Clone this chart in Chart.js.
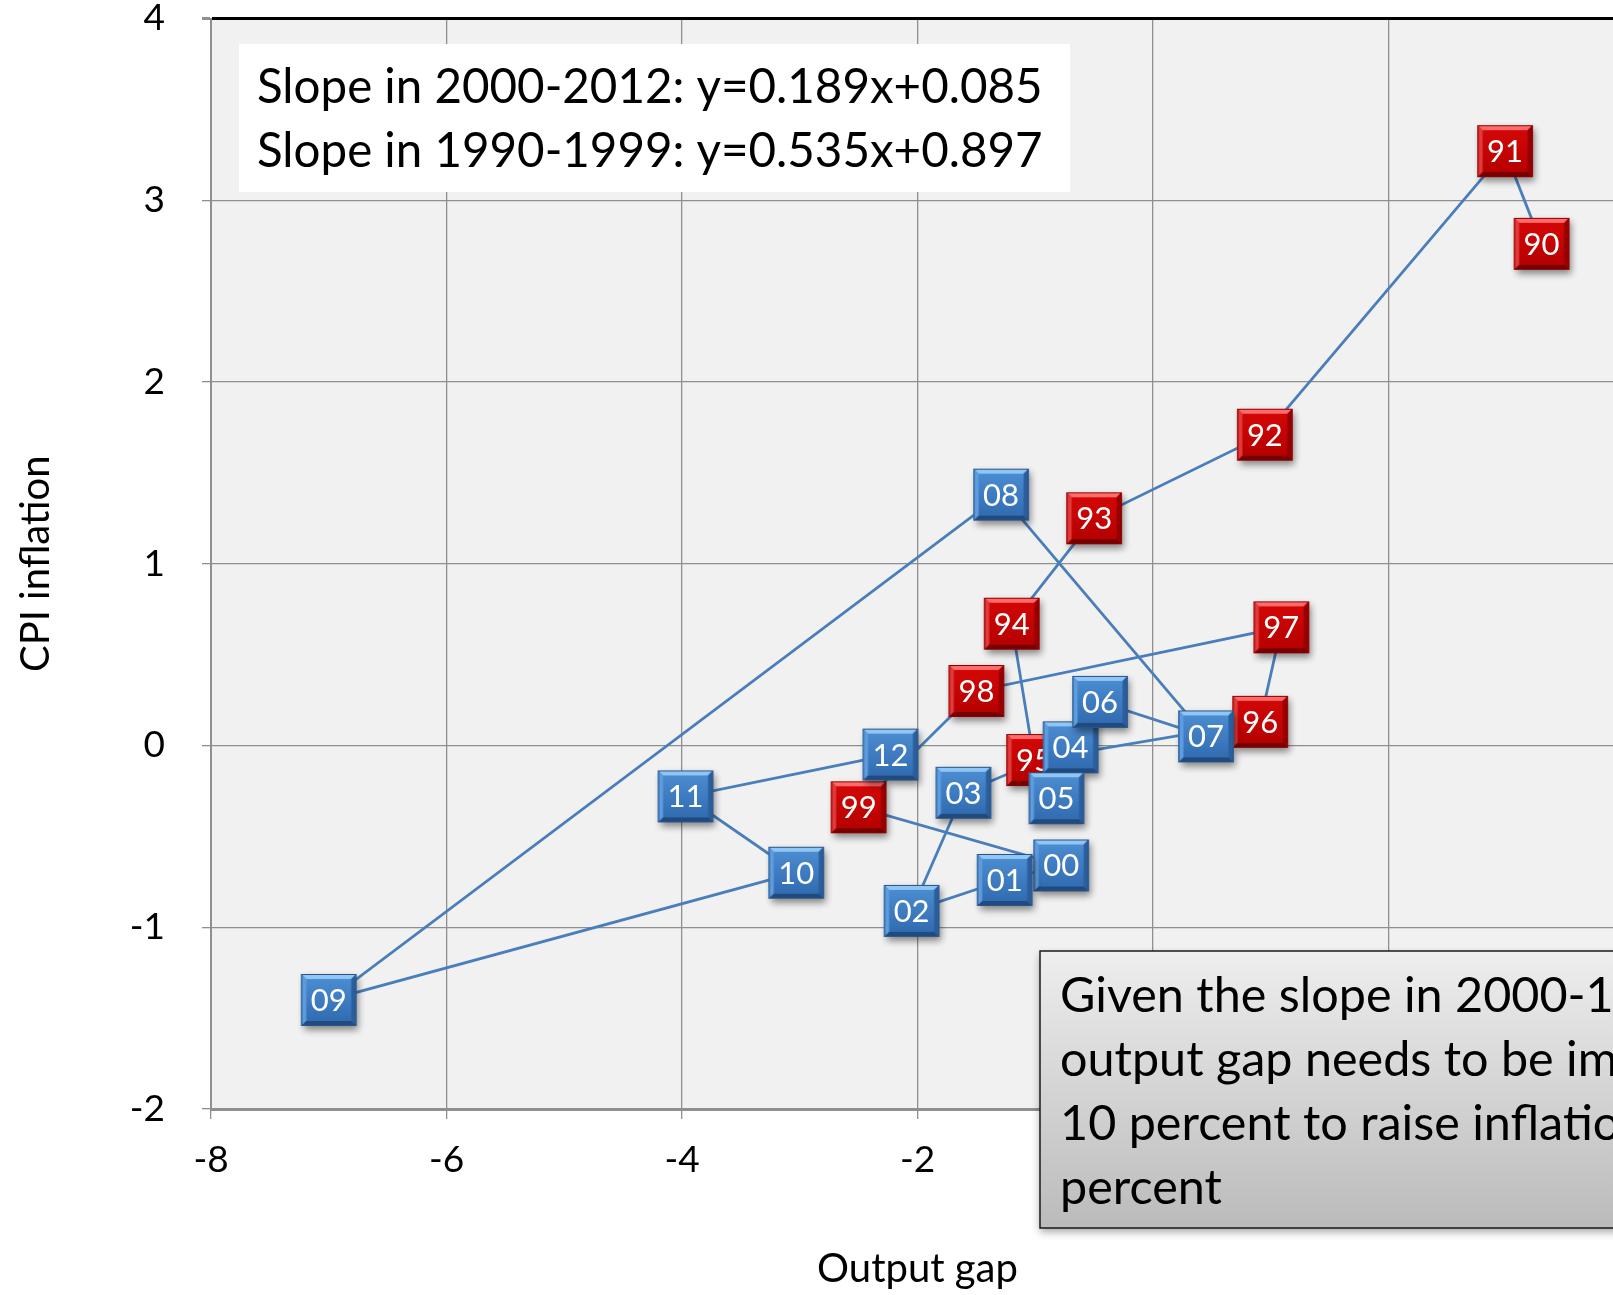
<!DOCTYPE html>
<html>
<head>
<meta charset="utf-8">
<title>Output gap and CPI inflation</title>
<script src="https://cdn.jsdelivr.net/npm/chart.js@4.4.1/dist/chart.umd.min.js"></script>
<style>
  html, body { margin: 0; padding: 0; background: #fff; overflow: hidden; }
</style>
</head>
<body>
<canvas id="phillipsChart" width="1700" height="1295"></canvas>
<script>
// 1990-1999 (red markers)
const redYears = ["90", "91", "92", "93", "94", "95", "96", "97", "98", "99"];
const redGap = [3.30, 2.99, 0.95, -0.50, -1.20, -1.01, 0.91, 1.09, -1.50, -2.50];
const redInflation = [2.76, 3.27, 1.71, 1.25, 0.67, -0.08, 0.13, 0.65, 0.30, -0.34];

// 2000-2012 (blue markers)
const blueYears = ["00", "01", "02", "03", "04", "05", "06", "07", "08", "09", "10", "11", "12"];
const blueGap = [-0.78, -1.26, -2.05, -1.61, -0.70, -0.82, -0.45, 0.45, -1.29, -7.00, -3.03, -3.97, -2.23];
const blueInflation = [-0.66, -0.74, -0.91, -0.26, -0.01, -0.29, 0.24, 0.05, 1.38, -1.40, -0.70, -0.28, -0.05];

const xTicks = [-8, -6, -4, -2, 0, 2, 4];
const yTicks = [-2, -1, 0, 1, 2, 3, 4];

const slopeNotes = [
    "Slope in 2000-2012: y=0.189x+0.085",
    "Slope in 1990-1999: y=0.535x+0.897"
];
const gapNote = [
    "Given the slope in 2000-12, the",
    "output gap needs to be improved by",
    "10 percent to raise inflation by 2",
    "percent"
];

const FONT = "Lato, 'Open Sans', sans-serif";
const GRID = "#8f8f8f";

function toPoints(xs, ys) {
    return xs.map((x, i) => ({ x: x, y: ys[i] }));
}

function poly(g, color, pts) {
    g.fillStyle = color;
    g.beginPath();
    g.moveTo(pts[0][0], pts[0][1]);
    pts.slice(1).forEach(p => g.lineTo(p[0], p[1]));
    g.closePath();
    g.fill();
}

// beveled square used as the point style
function makeBox(c) {
    const cv = document.createElement("canvas");
    cv.width = 80;
    cv.height = 80;
    const g = cv.getContext("2d");
    const w = 55, h = 52, b = 5;
    const x0 = (80 - w) / 2, y0 = (80 - h) / 2;

    g.save();
    g.shadowColor = "rgba(0,0,0,0.45)";
    g.shadowBlur = 7;
    g.shadowOffsetX = 2;
    g.shadowOffsetY = 4;
    g.fillStyle = c.faceBottom;
    g.fillRect(x0, y0, w, h);
    g.restore();

    const grad = g.createLinearGradient(0, y0, 0, y0 + h);
    grad.addColorStop(0, c.faceTop);
    grad.addColorStop(1, c.faceBottom);
    g.fillStyle = grad;
    g.fillRect(x0, y0, w, h);

    poly(g, c.top, [[x0, y0], [x0 + w, y0], [x0 + w - b, y0 + b], [x0 + b, y0 + b]]);
    poly(g, c.left, [[x0, y0], [x0 + b, y0 + b], [x0 + b, y0 + h - b], [x0, y0 + h]]);
    poly(g, c.right, [[x0 + w, y0], [x0 + w, y0 + h], [x0 + w - b, y0 + h - b], [x0 + w - b, y0 + b]]);
    poly(g, c.bottom, [[x0, y0 + h], [x0 + b, y0 + h - b], [x0 + w - b, y0 + h - b], [x0 + w, y0 + h]]);

    g.strokeStyle = c.edge;
    g.lineWidth = 1;
    g.strokeRect(x0 + 0.5, y0 + 0.5, w - 1, h - 1);
    return cv;
}

const redBox = makeBox({
    faceTop: "#d60808", faceBottom: "#b30000",
    top: "#ff6a6a", left: "#e23a3a", right: "#960000", bottom: "#760000", edge: "#8c0000"
});
const blueBox = makeBox({
    faceTop: "#4e8fd4", faceBottom: "#2f69ae",
    top: "#8fc6f6", left: "#5d9ddf", right: "#2b5e9c", bottom: "#214b80", edge: "#2b5485"
});

const plotBackground = {
    id: "plotBackground",
    beforeDraw(chart) {
        const { ctx, chartArea: a } = chart;
        ctx.save();
        ctx.fillStyle = "#f1f1f1";
        ctx.fillRect(a.left, a.top, a.right - a.left, a.bottom - a.top);
        ctx.restore();
    }
};

// year labels drawn right after their own dataset, so later boxes cover them
const yearLabels = {
    id: "yearLabels",
    afterDatasetDraw(chart, args) {
        const ds = chart.data.datasets[args.index];
        if (!ds.years) return;
        const { ctx } = chart;
        ctx.save();
        ctx.font = "31px " + FONT;
        ctx.fillStyle = "#ffffff";
        ctx.textAlign = "center";
        ctx.textBaseline = "middle";
        args.meta.data.forEach((pt, i) => {
            ctx.fillText(ds.years[i], pt.x, pt.y + 1);
        });
        ctx.restore();
    }
};

const notes = {
    id: "notes",
    beforeDatasetsDraw(chart) {
        const { ctx } = chart;
        ctx.save();
        ctx.fillStyle = "#ffffff";
        ctx.fillRect(239, 44, 831, 148);
        ctx.fillStyle = "#000";
        ctx.font = "47.5px " + FONT;
        ctx.textBaseline = "middle";
        slopeNotes.forEach((t, i) => ctx.fillText(t, 257, 88 + i * 64));
        ctx.restore();
    },
    afterDraw(chart) {
        const { ctx } = chart;
        const x = 1040, y = 951, w = 700, h = 277;
        ctx.save();
        ctx.shadowColor = "rgba(0,0,0,0.35)";
        ctx.shadowBlur = 8;
        ctx.shadowOffsetY = 4;
        const grad = ctx.createLinearGradient(0, y, 0, y + h);
        grad.addColorStop(0, "#eeeeee");
        grad.addColorStop(1, "#bbbbbb");
        ctx.fillStyle = grad;
        ctx.fillRect(x, y, w, h);
        ctx.shadowColor = "transparent";
        ctx.strokeStyle = "#1a1a1a";
        ctx.lineWidth = 1.5;
        ctx.strokeRect(x, y, w, h);
        ctx.fillStyle = "#000";
        ctx.font = "48.5px " + FONT;
        ctx.textBaseline = "middle";
        gapNote.forEach((t, i) => ctx.fillText(t, 1060, 996 + i * 64));
        ctx.restore();
    }
};

const ctx = document.getElementById("phillipsChart").getContext("2d");
new Chart(ctx, {
    type: "scatter",
    data: {
        datasets: [
            {
                label: "2000-2012",
                years: blueYears,
                data: toPoints(blueGap, blueInflation),
                pointStyle: blueBox,
                order: 0
            },
            {
                label: "1990-1999",
                years: redYears,
                data: toPoints(redGap, redInflation),
                pointStyle: redBox,
                order: 1
            },
            {
                label: "path",
                data: toPoints(redGap.concat(blueGap), redInflation.concat(blueInflation)),
                showLine: true,
                pointRadius: 0,
                borderColor: "#4a7ebb",
                borderWidth: 2.8,
                fill: false,
                order: 2
            }
        ]
    },
    options: {
        responsive: false,
        devicePixelRatio: 1,
        animation: false,
        layout: { padding: { left: 0, top: 18.5, right: 76, bottom: 0 } },
        plugins: {
            legend: { display: false },
            tooltip: { enabled: false }
        },
        scales: {
            x: {
                type: "linear",
                min: -8,
                max: 4,
                afterBuildTicks: (scale) => { scale.ticks = xTicks.map(v => ({ value: v })); },
                afterFit: (scale) => {
                    scale.height = 186;
                    scale.paddingLeft = 0;
                    scale.paddingRight = 0;
                },
                ticks: {
                    autoSkip: false,
                    maxRotation: 0,
                    color: "#000",
                    padding: 19,
                    font: { family: FONT, size: 37 }
                },
                grid: { color: GRID, lineWidth: 1.3, tickLength: 10, tickColor: GRID },
                border: { color: GRID, width: 3 },
                title: {
                    display: true,
                    text: "Output gap",
                    color: "#000",
                    padding: { top: 0, bottom: 2 },
                    font: { family: FONT, size: 40 }
                }
            },
            y: {
                type: "linear",
                min: -2,
                max: 4,
                afterBuildTicks: (scale) => { scale.ticks = yTicks.map(v => ({ value: v })); },
                afterFit: (scale) => {
                    scale.width = 211;
                    scale.paddingTop = 0;
                    scale.paddingBottom = 0;
                },
                ticks: {
                    autoSkip: false,
                    color: "#000",
                    padding: 37,
                    font: { family: FONT, size: 37 }
                },
                grid: {
                    color: (c) => (c.tick && c.tick.value === 4 ? "#000" : GRID),
                    lineWidth: (c) => (c.tick && c.tick.value === 4 ? 3 : 1.3),
                    tickLength: 9,
                    tickColor: GRID
                },
                border: { color: GRID, width: 2 },
                title: {
                    display: true,
                    text: "CPI inflation",
                    color: "#000",
                    padding: { top: 12, bottom: 0 },
                    font: { family: FONT, size: 40 }
                }
            }
        }
    },
    plugins: [plotBackground, yearLabels, notes]
});
</script>
</body>
</html>
